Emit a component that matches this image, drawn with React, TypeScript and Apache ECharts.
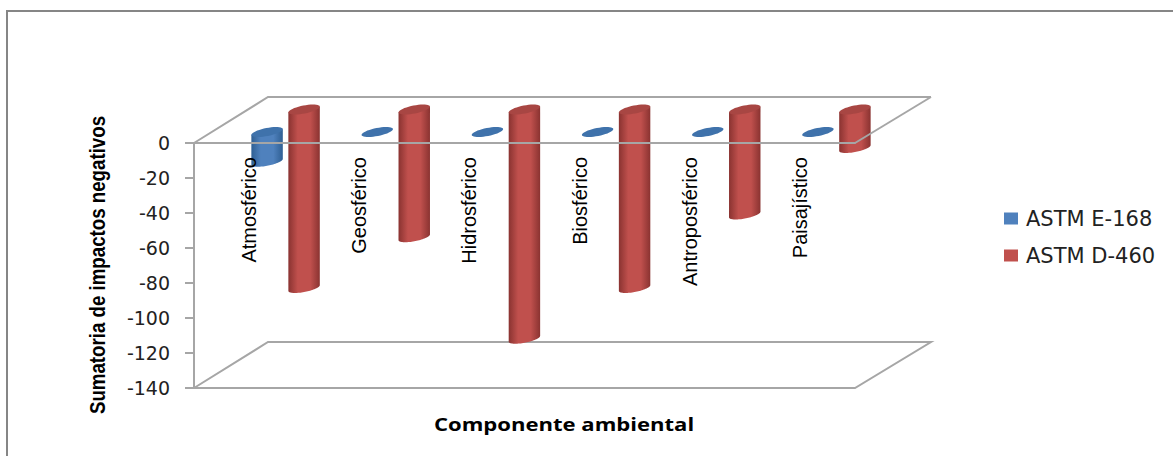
import React, { useEffect, useRef } from "react";
import * as echarts from "echarts";

const categories = ["Atmosférico", "Geosférico", "Hidrosférico", "Biosférico", "Antroposférico", "Paisajístico"];
const astmE168 = [-17, 0, 0, 0, 0, 0];
const astmD460 = [-102, -73, -131, -102, -60, -22];

// Perspective shift of each series behind the front plane, plus cylinder shading.
const cylinderStyles = [
  { dx: 18, dy: -11, edge: "#2f5f93", mid: "#4f81bd", cap: "#3f72ab" },
  { dx: 55, dy: -33.5, edge: "#8a3331", mid: "#c0504d", cap: "#a84643" },
];
const capA = 16;
const capB = 4;
const capTilt = (-11 * Math.PI) / 180;
const capSteps = 40;

function capPoint(cx: number, cy: number, t: number) {
  return [
    cx + capA * Math.cos(t) * Math.cos(capTilt) - capB * Math.sin(t) * Math.sin(capTilt),
    cy + capA * Math.cos(t) * Math.sin(capTilt) + capB * Math.sin(t) * Math.cos(capTilt),
  ];
}

function capOutline(cx: number, cy: number) {
  const pts: number[][] = [];
  for (let i = 0; i < capSteps; i++) pts.push(capPoint(cx, cy, (i / capSteps) * 2 * Math.PI));
  return pts;
}

function bodyOutline(cx: number, top: number, bottom: number) {
  // Parameter of the cap's rightmost point, where the silhouette's straight side starts
  const t0 = Math.atan2(-capB * Math.sin(capTilt), capA * Math.cos(capTilt));
  const pts: number[][] = [capPoint(cx, top, t0 + Math.PI)];
  for (let i = 0; i <= capSteps; i++) pts.push(capPoint(cx, bottom, t0 + Math.PI - (i / capSteps) * Math.PI));
  pts.push(capPoint(cx, top, t0));
  return pts;
}

function cylinderSeries(name: string, values: number[], index: number) {
  const look = cylinderStyles[index];
  return {
    name,
    type: "custom",
    coordinateSystem: "cartesian2d",
    z: 2,
    itemStyle: { color: look.mid },
    encode: { x: 0, y: 1 },
    data: values.map((v, i) => [i, v]),
    renderItem: (_: unknown, api: any) => {
      const zero = api.coord([api.value(0), 0]);
      const end = api.coord([api.value(0), api.value(1)]);
      const cx = zero[0] + look.dx;
      const top = zero[1] + look.dy;
      const bottom = end[1] + look.dy;
      const children: any[] = [];
      if (api.value(1) !== 0) {
        children.push({
          type: "polygon",
          shape: { points: bodyOutline(cx, top, bottom) },
          style: {
            fill: {
              type: "linear",
              x: 0,
              y: 0,
              x2: 1,
              y2: 0,
              colorStops: [
                { offset: 0, color: look.edge },
                { offset: 0.3, color: look.mid },
                { offset: 0.7, color: look.mid },
                { offset: 1, color: look.edge },
              ],
            },
          },
        });
      }
      children.push({ type: "polygon", shape: { points: capOutline(cx, top) }, style: { fill: look.cap } });
      return { type: "group", children };
    },
  };
}

export default function App() {
  const ref = useRef<HTMLDivElement>(null);
  useEffect(() => {
    const chart = echarts.init(ref.current!, undefined, { renderer: "svg" });
    const wall = { stroke: "#a6a6a6", lineWidth: 2, fill: "none" };
    chart.setOption({
      animation: false,
      backgroundColor: "#ffffff",
      grid: { left: 194, right: 318, top: 143, bottom: 68, outerBoundsMode: "none" },
      xAxis: {
        type: "category",
        position: "top",
        data: categories,
        z: 3,
        axisLine: { lineStyle: { color: "#a6a6a6", width: 2 } },
        axisTick: { show: false },
        axisLabel: {
          inside: true,
          rotate: 90,
          margin: 14,
          fontFamily: "Liberation Sans",
          fontSize: 20,
          color: "#000000",
        },
      },
      yAxis: {
        type: "value",
        min: -140,
        max: 0,
        interval: 20,
        splitLine: { show: false },
        axisLine: { show: true, lineStyle: { color: "#a6a6a6", width: 2 } },
        axisTick: { show: true, length: 9, lineStyle: { color: "#a6a6a6", width: 2 } },
        axisLabel: { margin: 24, fontFamily: "DejaVu Sans", fontSize: 19, color: "#222222" },
      },
      legend: {
        orient: "vertical",
        left: 999,
        top: 203,
        itemGap: 16,
        itemWidth: 14,
        itemHeight: 12,
        icon: "rect",
        textStyle: { fontFamily: "DejaVu Sans", fontSize: 21, color: "#222222", padding: [0, 0, 0, 3] },
        data: ["ASTM E-168", "ASTM D-460"],
      },
      series: [cylinderSeries("ASTM E-168", astmE168, 0), cylinderSeries("ASTM D-460", astmD460, 1)],
      graphic: [
        { type: "polyline", z: 0, silent: true, shape: { points: [[194, 388], [268, 342], [931, 342], [855, 388], [194, 388]] }, style: wall },
        { type: "polyline", z: 0, silent: true, shape: { points: [[194, 143], [268, 97], [931, 97]] }, style: wall },
        { type: "line", z: 5, silent: true, shape: { x1: 855, y1: 143, x2: 931, y2: 97 }, style: wall },
        { type: "polyline", z: 0, silent: true, shape: { points: [[7, 456], [7, 11], [1173, 11]] }, style: { stroke: "#868686", lineWidth: 2, fill: "none" } },
        {
          type: "text",
          z: 5,
          x: 434,
          y: 424,
          scaleX: 1.226,
          style: { text: "Componente ambiental", fontFamily: "Open Sans", fontWeight: "bold", fontSize: 18, fill: "#000000", verticalAlign: "middle" },
        },
        {
          type: "text",
          z: 5,
          x: 97,
          y: 265,
          rotation: Math.PI / 2,
          scaleX: 0.85,
          style: { text: "Sumatoria de impactos negativos", fontFamily: "Liberation Sans", fontWeight: "bold", fontSize: 22, fill: "#000000", align: "center", verticalAlign: "middle" },
        },
      ],
    });
    return () => chart.dispose();
  }, []);
  return <div ref={ref} style={{ position: "absolute", left: 0, top: 0, width: 1173, height: 456 }} />;
}
